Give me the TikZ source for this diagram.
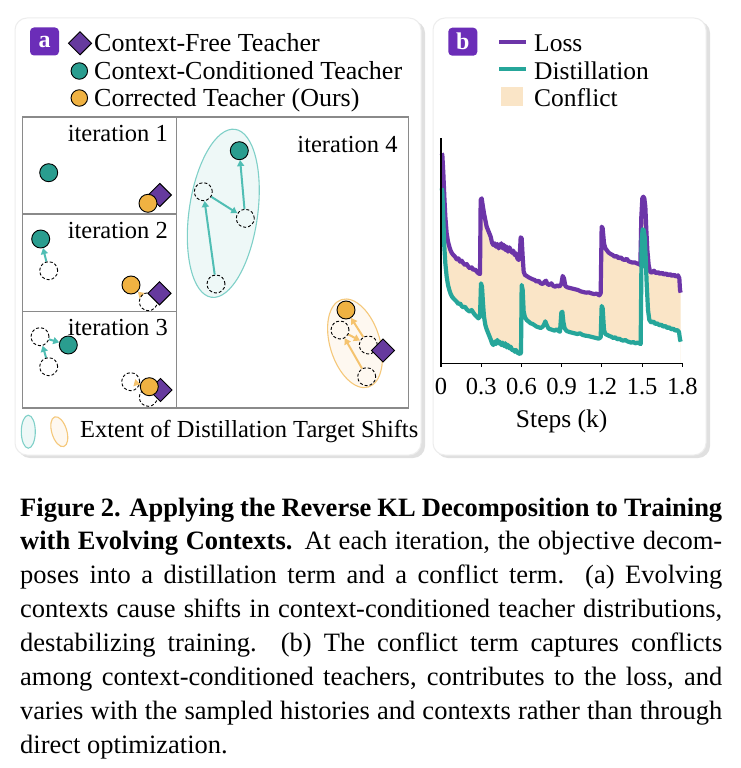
\documentclass[tikz,border=0pt]{standalone}
\usepackage{fontspec}
\setmainfont{Liberation Serif}
\usetikzlibrary{shapes.geometric,arrows.meta}
\pgfdeclarelayer{back}
\pgfdeclarelayer{mid}
\pgfsetlayers{back,mid,main}
\definecolor{badgec}{HTML}{6B2DB8}
\definecolor{diamc}{HTML}{663A9E}
\definecolor{tealc}{HTML}{2A9D8F}
\definecolor{orangec}{HTML}{F0B242}
\definecolor{losscol}{HTML}{6C35A8}
\definecolor{distcol}{HTML}{26A69A}
\definecolor{conflictc}{HTML}{FAE5C7}
\definecolor{tarrowc}{HTML}{50BEB4}
\definecolor{oarrowc}{HTML}{F5C36E}
\definecolor{tellc}{HTML}{7FD0C8}
\definecolor{tellf}{HTML}{EEF8F7}
\definecolor{oellc}{HTML}{F5C87A}
\definecolor{oellf}{HTML}{FEF8F0}
\definecolor{gridc}{HTML}{8A8A8A}
\newcommand\fsz[1]{\fontsize{#1}{#1}\selectfont}
\begin{document}
\begin{tikzpicture}[x=1pt,y=-1pt,
  teach/.style={circle,draw=black,line width=0.9pt,minimum size=18pt,inner sep=0pt},
  ctx/.style={teach,fill=tealc},
  cor/.style={teach,fill=orangec},
  ghost/.style={circle,draw=black,line width=0.9pt,dash pattern=on 3pt off 2pt,minimum size=18pt,inner sep=0pt},
  free/.style={diamond,draw=black,line width=0.9pt,fill=diamc,minimum size=23.5pt,inner sep=0pt},
  tarr/.style={draw=tarrowc,line width=2pt,-{Triangle[length=6pt,width=7pt]}},
  oarr/.style={draw=oarrowc,line width=2pt,-{Triangle[length=6pt,width=7pt]}},
  badgebox/.style={fill=badgec,rounded corners=4pt,minimum width=29pt,minimum height=28pt,inner sep=0pt,text=white,font=\fsz{24}\bfseries},
  legtxt/.style={anchor=base west,inner sep=0pt,font=\fsz{26}},
  itlbl/.style={anchor=base east,inner sep=0pt,font=\fsz{24.5}},
  paneltxt/.style={anchor=base west,inner sep=0pt,font=\fsz{25.5}},
  capline/.style={anchor=base west,inner sep=0pt,font=\fsz{26.5}},
  tell/.style={draw=tellc,fill=tellf,line width=1.1pt},
  oell/.style={draw=oellc,fill=oellf,line width=1.1pt},
  gridline/.style={draw=gridc,line width=1.2pt}
]
\useasboundingbox (0,0) rectangle (740,768);
\begin{pgfonlayer}{back}
\fill[white] (0,0) rectangle (740,768);
% panels
\fill[black!12,rounded corners=12pt] (18,21) rectangle (425,458);
\filldraw[fill=white,draw=black!7,line width=1pt,rounded corners=12pt] (15,18) rectangle (421,455);
\fill[black!12,rounded corners=12pt] (436,21) rectangle (710,458);
\filldraw[fill=white,draw=black!7,line width=1pt,rounded corners=12pt] (433,18) rectangle (706,455);
% grid
\draw[gridline] (22.7,117) rectangle (408.7,408);
\draw[gridline] (176.7,117) -- (176.7,408);
\draw[gridline] (22.7,214) -- (176.7,214);
\draw[gridline] (22.7,311.7) -- (176.7,311.7);
% extent ellipses
\draw[tell,shift={(223.3,213.3)},rotate=-8] (0,0) ellipse (34.3 and 84.8);
\draw[oell,shift={(355,343.3)},rotate=17] (0,0) ellipse (25 and 45.7);
\end{pgfonlayer}

% badges
\node[badgebox] (ba) at (44.5,41.5) {a};
\node[badgebox] (bb) at (462.8,41.7) {b};

% legend a
\node[free] (lf) at (80,43.3) {};
\node[ctx,minimum size=16.5pt] (lc) at (79.3,71) {};
\node[cor,minimum size=16.5pt] (lo) at (79.3,98) {};
\node[legtxt] (lft) at (94,51.7) {Context-Free Teacher};
\node[legtxt] (lct) at (94,79) {Context-Conditioned Teacher};
\node[legtxt] (lot) at (94,106) {Corrected Teacher (Ours)};

\node[itlbl] (it1) at (168,141.7) {iteration 1};
\node[itlbl] (it2) at (168,238) {iteration 2};
\node[itlbl] (it3) at (168,335) {iteration 3};
\node[itlbl] (it4) at (397.7,152.7) {iteration 4};

% iteration 1
\node[ctx] (c1) at (48.7,172.7) {};
\node[free] (f1) at (159.8,195) {};
\node[cor] (o1) at (148,203.3) {};

% iteration 2
\node[ghost] (g2) at (48.7,270.7) {};
\node[ctx] (c2) at (40.7,239) {};
\node[ghost] (h2) at (148.3,301.7) {};
\node[free] (f2) at (159.5,293.3) {};
\node[cor] (o2) at (131,285) {};

% iteration 3
\node[ghost] (g3b) at (48.7,366.7) {};
\node[ghost] (g3a) at (40,336.7) {};
\node[ctx] (c3) at (68.3,345) {};
\node[ghost] (h3a) at (130.7,381.7) {};
\node[ghost] (h3b) at (148.3,397.3) {};
\node[free] (f3) at (160.5,390) {};
\node[cor] (o3) at (149.3,386.7) {};

% iteration 4
\node[ghost] (g4c) at (216,284) {};
\node[ghost] (g4a) at (203.3,191.7) {};
\node[ghost] (g4b) at (245.3,218.3) {};
\node[ctx] (c4) at (239.3,150.7) {};
\node[ghost] (h4c) at (366.7,376.7) {};
\node[ghost] (h4a) at (340,330) {};
\node[ghost] (h4b) at (368.3,345) {};
\node[free] (f4) at (383,350.5) {};
\node[cor] (o4) at (346,310) {};

\begin{pgfonlayer}{mid}
\draw[tarr] (g2) -- (c2);
\draw[oarr] (h2) -- (o2);
\draw[tarr] (g3b) -- (g3a);
\draw[tarr] (g3a) -- (c3);
\draw[oarr] (h3a) -- (o3);
\draw[tarr] (g4c) -- (g4a);
\draw[tarr] (g4a) -- (g4b);
\draw[tarr] (g4b) -- (c4);
\draw[oarr] (h4c) -- (h4a);
\draw[oarr] (h4a) -- (h4b);
\draw[oarr] (h4b) -- (o4);
\end{pgfonlayer}

% bottom legend
\begin{pgfonlayer}{back}
\draw[tell,shift={(28.3,431.7)}] (0,0) ellipse (7 and 16.5);
\draw[oell,shift={(59.3,431.7)},rotate=17] (0,0) ellipse (7.5 and 15.5);
\end{pgfonlayer}
\node[anchor=base west,inner sep=0pt,font=\fsz{24.5}] (ext) at (80,437.7) {Extent of Distillation Target Shifts};

% legend b
\draw[losscol,line width=3.8pt] (499,42.3) -- (525.7,42.3);
\node[paneltxt] (lossl) at (534,51.7) {Loss};
\draw[distcol,line width=3.8pt] (499,69.3) -- (525.7,69.3);
\node[paneltxt] (distl) at (534,79) {Distillation};
\fill[conflictc] (501,87.3) rectangle (523.3,105.7);
\node[paneltxt] (confl) at (534,106) {Conflict};

% chart
\begin{scope}[shift={(420,130)},x=0.33333pt,y=-0.33333pt]
\fill[conflictc] (65,700) -- plot coordinates {(65,70) (67,75) (70,130) (73,200) (76,260) (80,310) (84,335) (88,350) (92,362) (96,370) (100,375) (105,380) (110,388) (115,385) (120,395) (125,392) (130,400) (135,405) (140,402) (145,410) (150,415) (155,412) (160,420) (165,418) (170,425) (175,430) (180,432) (182,210) (185,205) (188,225) (192,250) (196,270) (200,290) (204,300) (208,310) (212,320) (216,338) (220,345) (224,340) (228,350) (232,342) (236,355) (240,348) (244,340) (248,355) (252,345) (256,360) (260,350) (264,365) (268,352) (272,360) (276,368) (280,362) (284,375) (288,370) (292,385) (296,390) (299,380) (302,322) (305,325) (308,380) (311,425) (315,435) (320,438) (326,442) (332,445) (338,448) (344,450) (350,455) (356,452) (362,460) (368,462) (374,455) (378,452) (382,462) (388,465) (394,460) (400,468) (406,470) (412,466) (418,470) (424,462) (428,438) (432,445) (436,468) (442,472) (450,474) (458,476) (466,478) (474,480) (482,484) (490,486) (498,488) (506,487) (514,490) (522,492) (530,491) (538,496) (542,490) (545,290) (548,295) (552,340) (556,355) (560,360) (566,368) (572,372) (578,375) (584,380) (590,378) (596,385) (602,382) (608,388) (614,390) (620,386) (626,394) (632,396) (638,398) (644,397) (650,400) (656,402) (661,405) (664,260) (667,205) (670,200) (673,205) (676,230) (679,300) (682,360) (686,405) (690,425) (696,428) (702,422) (708,430) (714,426) (720,432) (726,428) (732,434) (738,430) (744,436) (750,432) (756,438) (762,434) (768,440) (774,436) (778,445) (780,480) (782,488)} -- (782,700) -- cycle;
\fill[white] (65,700) -- plot coordinates {(65,175) (67,185) (70,270) (73,350) (76,400) (80,440) (84,465) (88,480) (92,492) (96,500) (100,505) (105,510) (110,515) (115,522) (120,520) (125,528) (130,532) (135,530) (140,538) (145,542) (150,545) (155,540) (160,548) (165,555) (170,560) (175,565) (180,560) (183,460) (186,470) (189,520) (192,560) (196,585) (200,598) (204,608) (208,618) (212,628) (216,640) (220,645) (224,635) (228,642) (232,630) (236,640) (240,636) (244,645) (248,638) (252,648) (256,640) (260,652) (264,645) (268,655) (272,650) (276,660) (280,658) (284,665) (288,660) (292,668) (296,670) (300,672) (303,668) (305,465) (308,480) (311,545) (315,562) (320,570) (326,575) (332,580) (338,582) (344,586) (350,590) (356,592) (362,594) (368,590) (372,584) (376,574) (380,585) (386,596) (392,598) (398,600) (404,602) (410,598) (416,603) (420,605) (424,548) (427,545) (430,575) (434,595) (440,603) (448,606) (456,608) (464,610) (472,612) (480,610) (488,615) (496,617) (504,618) (512,620) (520,622) (528,624) (536,626) (542,622) (545,528) (548,535) (552,600) (556,612) (562,615) (568,618) (574,620) (580,624) (586,622) (592,628) (598,626) (604,630) (610,632) (616,630) (622,634) (628,636) (634,638) (640,636) (646,640) (652,638) (658,640) (662,642) (665,330) (668,298) (671,300) (674,320) (677,380) (680,460) (684,540) (688,570) (694,578) (700,574) (706,582) (712,580) (718,586) (724,584) (730,590) (736,588) (742,594) (748,592) (754,598) (760,596) (766,602) (772,600) (777,606) (780,628) (782,635)} -- (782,700) -- cycle;
\draw[losscol,line width=4.2pt,line join=round] plot coordinates {(65,70) (67,75) (70,130) (73,200) (76,260) (80,310) (84,335) (88,350) (92,362) (96,370) (100,375) (105,380) (110,388) (115,385) (120,395) (125,392) (130,400) (135,405) (140,402) (145,410) (150,415) (155,412) (160,420) (165,418) (170,425) (175,430) (180,432) (182,210) (185,205) (188,225) (192,250) (196,270) (200,290) (204,300) (208,310) (212,320) (216,338) (220,345) (224,340) (228,350) (232,342) (236,355) (240,348) (244,340) (248,355) (252,345) (256,360) (260,350) (264,365) (268,352) (272,360) (276,368) (280,362) (284,375) (288,370) (292,385) (296,390) (299,380) (302,322) (305,325) (308,380) (311,425) (315,435) (320,438) (326,442) (332,445) (338,448) (344,450) (350,455) (356,452) (362,460) (368,462) (374,455) (378,452) (382,462) (388,465) (394,460) (400,468) (406,470) (412,466) (418,470) (424,462) (428,438) (432,445) (436,468) (442,472) (450,474) (458,476) (466,478) (474,480) (482,484) (490,486) (498,488) (506,487) (514,490) (522,492) (530,491) (538,496) (542,490) (545,290) (548,295) (552,340) (556,355) (560,360) (566,368) (572,372) (578,375) (584,380) (590,378) (596,385) (602,382) (608,388) (614,390) (620,386) (626,394) (632,396) (638,398) (644,397) (650,400) (656,402) (661,405) (664,260) (667,205) (670,200) (673,205) (676,230) (679,300) (682,360) (686,405) (690,425) (696,428) (702,422) (708,430) (714,426) (720,432) (726,428) (732,434) (738,430) (744,436) (750,432) (756,438) (762,434) (768,440) (774,436) (778,445) (780,480) (782,488)};
\draw[distcol,line width=4.2pt,line join=round] plot coordinates {(65,175) (67,185) (70,270) (73,350) (76,400) (80,440) (84,465) (88,480) (92,492) (96,500) (100,505) (105,510) (110,515) (115,522) (120,520) (125,528) (130,532) (135,530) (140,538) (145,542) (150,545) (155,540) (160,548) (165,555) (170,560) (175,565) (180,560) (183,460) (186,470) (189,520) (192,560) (196,585) (200,598) (204,608) (208,618) (212,628) (216,640) (220,645) (224,635) (228,642) (232,630) (236,640) (240,636) (244,645) (248,638) (252,648) (256,640) (260,652) (264,645) (268,655) (272,650) (276,660) (280,658) (284,665) (288,660) (292,668) (296,670) (300,672) (303,668) (305,465) (308,480) (311,545) (315,562) (320,570) (326,575) (332,580) (338,582) (344,586) (350,590) (356,592) (362,594) (368,590) (372,584) (376,574) (380,585) (386,596) (392,598) (398,600) (404,602) (410,598) (416,603) (420,605) (424,548) (427,545) (430,575) (434,595) (440,603) (448,606) (456,608) (464,610) (472,612) (480,610) (488,615) (496,617) (504,618) (512,620) (520,622) (528,624) (536,626) (542,622) (545,528) (548,535) (552,600) (556,612) (562,615) (568,618) (574,620) (580,624) (586,622) (592,628) (598,626) (604,630) (610,632) (616,630) (622,634) (628,636) (634,638) (640,636) (646,640) (652,638) (658,640) (662,642) (665,330) (668,298) (671,300) (674,320) (677,380) (680,460) (684,540) (688,570) (694,578) (700,574) (706,582) (712,580) (718,586) (724,584) (730,590) (736,588) (742,594) (748,592) (754,598) (760,596) (766,602) (772,600) (777,606) (780,628) (782,635)};
\draw[black,line width=1.2pt] (63,25) -- (63,700) -- (787,700);
\foreach \i/\l in {0/0,1/0.3,2/0.6,3/0.9,4/1.2,5/1.5,6/1.8}{
  \draw[black,line width=1.2pt] ({63+\i*120.667},700) -- ({63+\i*120.667},712);
  \node[anchor=base,inner sep=0pt,font=\fsz{24.5}] (tk\i) at ({63+\i*120.667},793) {\l};
}
\node[anchor=base,inner sep=0pt,font=\fsz{25.5}] (steps) at (425,893) {Steps (k)};
\end{scope}

% caption
\node[capline] (cap1) at (20,516) {\makebox[702pt][s]{\textbf{Figure 2. Applying the Reverse KL Decomposition to Training}}};
\node[capline] (cap2) at (20,549.9) {\makebox[702pt][s]{\textbf{with Evolving Contexts.} At each iteration, the objective decom-}};
\node[capline] (cap3) at (20,583.8) {\makebox[702pt][s]{poses into a distillation term and a conflict term.\ \ (a) Evolving}};
\node[capline] (cap4) at (20,617.7) {\makebox[702pt][s]{contexts cause shifts in context-conditioned teacher distributions,}};
\node[capline] (cap5) at (20,651.6) {\makebox[702pt][s]{destabilizing training.\ \ (b) The conflict term captures conflicts}};
\node[capline] (cap6) at (20,685.5) {\makebox[702pt][s]{among context-conditioned teachers, contributes to the loss, and}};
\node[capline] (cap7) at (20,719.4) {\makebox[702pt][s]{varies with the sampled histories and contexts rather than through}};
\node[capline] (cap8) at (20,753.3) {direct optimization.};
\end{tikzpicture}
\end{document}
